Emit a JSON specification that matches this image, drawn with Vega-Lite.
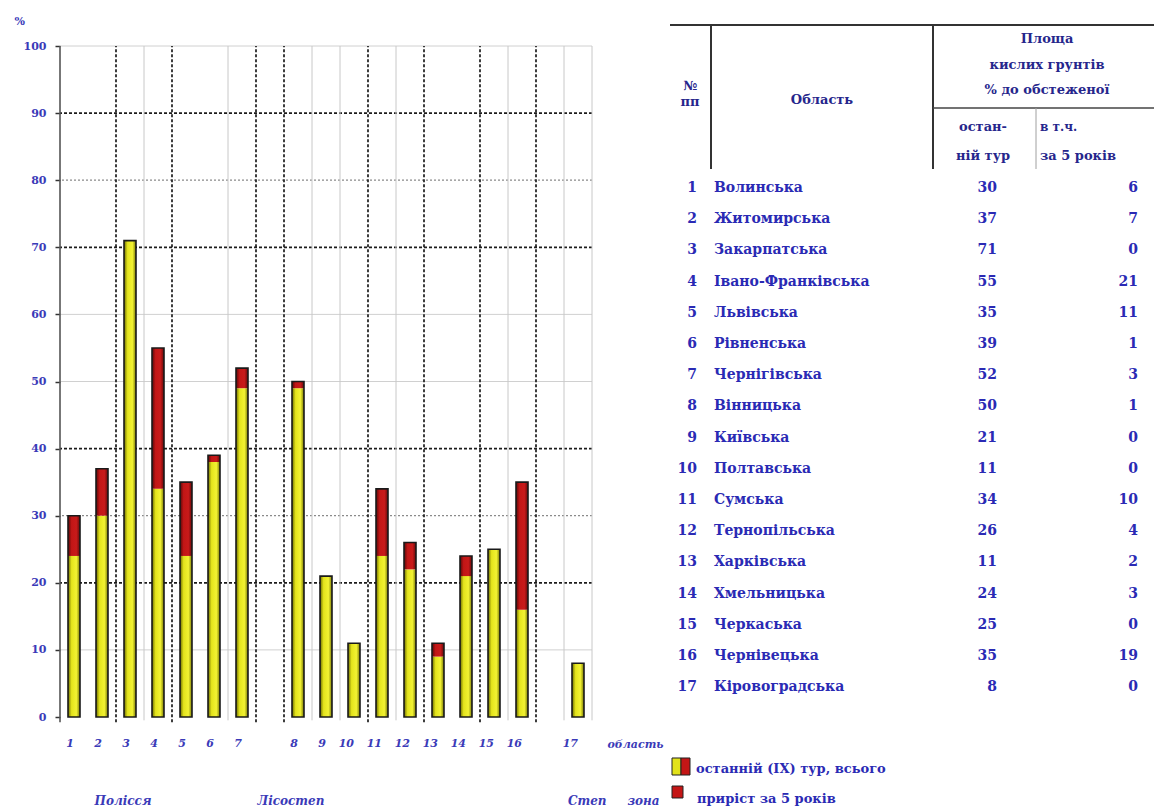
{
  "$schema": "https://vega.github.io/schema/vega-lite/v6.json",
  "background": "white",
  "autosize": {"type": "pad"},
  "padding": {"left": 14, "top": 15, "right": 0, "bottom": 0},
  "bounds": "flush",
  "spacing": 76,
  "config": {
    "view": {"stroke": null},
    "text": {"font": "DejaVu Serif"}
  },
  "datasets": {
    "regions": [
      {"id": "1", "no": 1, "name": "Волинська", "total": 30, "inc": 6, "base": 24},
      {"id": "2", "no": 2, "name": "Житомирська", "total": 37, "inc": 7, "base": 30},
      {"id": "3", "no": 3, "name": "Закарпатська", "total": 71, "inc": 0, "base": 71},
      {"id": "4", "no": 4, "name": "Івано-Франківська", "total": 55, "inc": 21, "base": 34},
      {"id": "5", "no": 5, "name": "Львівська", "total": 35, "inc": 11, "base": 24},
      {"id": "6", "no": 6, "name": "Рівненська", "total": 39, "inc": 1, "base": 38},
      {"id": "7", "no": 7, "name": "Чернігівська", "total": 52, "inc": 3, "base": 49},
      {"id": "8", "no": 8, "name": "Вінницька", "total": 50, "inc": 1, "base": 49},
      {"id": "9", "no": 9, "name": "Київська", "total": 21, "inc": 0, "base": 21},
      {"id": "10", "no": 10, "name": "Полтавська", "total": 11, "inc": 0, "base": 11},
      {"id": "11", "no": 11, "name": "Сумська", "total": 34, "inc": 10, "base": 24},
      {"id": "12", "no": 12, "name": "Тернопільська", "total": 26, "inc": 4, "base": 22},
      {"id": "13", "no": 13, "name": "Харківська", "total": 11, "inc": 2, "base": 9},
      {"id": "14", "no": 14, "name": "Хмельницька", "total": 24, "inc": 3, "base": 21},
      {"id": "15", "no": 15, "name": "Черкаська", "total": 25, "inc": 0, "base": 25},
      {"id": "16", "no": 16, "name": "Чернівецька", "total": 35, "inc": 19, "base": 16},
      {"id": "17", "no": 17, "name": "Кіровоградська", "total": 8, "inc": 0, "base": 8}
    ],
    "one": [{}],
    "gridDark": [{"v": 20}, {"v": 40}, {"v": 70}, {"v": 90}],
    "gridMid": [{"v": 30}, {"v": 80}],
    "gridLight": [{"v": 10}, {"v": 50}, {"v": 60}, {"v": 100}],
    "vDark": [{"id": "3"}, {"id": "5"}, {"id": "a"}, {"id": "8"}, {"id": "11"}, {"id": "13"}, {"id": "15"}, {"id": "b"}],
    "vLight": [{"id": "4"}, {"id": "7"}, {"id": "9"}, {"id": "10"}, {"id": "12"}, {"id": "16"}, {"id": "17"}],
    "vAxis": [{"id": "1"}],
    "vRight": [{"id": "17"}]
  },
  "hconcat": [
    {
      "width": 532,
      "height": 692,
      "layer": [
        {
          "data": {"name": "gridLight"},
          "mark": {"type": "rule", "color": "#d0d0d0", "strokeWidth": 1},
          "encoding": {
            "y": {"field": "v", "type": "quantitative", "scale": {"domain": [0, 103.13], "nice": false, "zero": true},
              "axis": {"values": [0, 10, 20, 30, 40, 50, 60, 70, 80, 90, 100], "domain": false, "grid": false, "ticks": true, "tickSize": 5, "tickColor": "#333333", "tickWidth": 1.5,
                "labelColor": "#3a3ab8", "labelFont": "DejaVu Serif", "labelFontWeight": "bold", "labelFontSize": 11, "labelPadding": 9,
                "title": "%", "titleAngle": 0, "titleX": -46, "titleY": -4, "titleAlign": "left", "titleBaseline": "middle", "titleColor": "#3a3ab8", "titleFont": "DejaVu Serif", "titleFontWeight": "bold", "titleFontSize": 11}}
          }
        },
        {
          "data": {"name": "gridMid"},
          "mark": {"type": "rule", "color": "#8a8a8a", "strokeWidth": 1.2, "strokeDash": [2, 2]},
          "encoding": {"y": {"field": "v", "type": "quantitative", "scale": {"domain": [0, 103.13], "nice": false, "zero": true}}}
        },
        {
          "data": {"name": "gridDark"},
          "mark": {"type": "rule", "color": "#1c1c1c", "strokeWidth": 1.7, "strokeDash": [3, 2]},
          "encoding": {"y": {"field": "v", "type": "quantitative", "scale": {"domain": [0, 103.13], "nice": false, "zero": true}}}
        },
        {
          "data": {"name": "vLight"},
          "mark": {"type": "rule", "color": "#c8c8c8", "strokeWidth": 1},
          "encoding": {
            "x": {"field": "id", "type": "nominal", "bandPosition": 0, "scale": {"domain": ["1","2","3","4","5","6","7","a","8","9","10","11","12","13","14","15","16","b","17"], "paddingInner": 0, "paddingOuter": 0}},
            "y": {"datum": -0.5, "type": "quantitative", "scale": {"domain": [0, 103.13], "nice": false, "zero": true}},
            "y2": {"datum": 100}
          }
        },
        {
          "data": {"name": "vRight"},
          "mark": {"type": "rule", "color": "#c8c8c8", "strokeWidth": 1},
          "encoding": {
            "x": {"field": "id", "type": "nominal", "bandPosition": 1, "scale": {"domain": ["1","2","3","4","5","6","7","a","8","9","10","11","12","13","14","15","16","b","17"], "paddingInner": 0, "paddingOuter": 0}},
            "y": {"datum": -0.5, "type": "quantitative", "scale": {"domain": [0, 103.13], "nice": false, "zero": true}},
            "y2": {"datum": 100}
          }
        },
        {
          "data": {"name": "vDark"},
          "mark": {"type": "rule", "color": "#1c1c1c", "strokeWidth": 1.7, "strokeDash": [3, 2]},
          "encoding": {
            "x": {"field": "id", "type": "nominal", "bandPosition": 0, "scale": {"domain": ["1","2","3","4","5","6","7","a","8","9","10","11","12","13","14","15","16","b","17"], "paddingInner": 0, "paddingOuter": 0}},
            "y": {"datum": -0.8, "type": "quantitative", "scale": {"domain": [0, 103.13], "nice": false, "zero": true}},
            "y2": {"datum": 100}
          }
        },
        {
          "data": {"name": "vAxis"},
          "mark": {"type": "rule", "color": "#555555", "strokeWidth": 1.6},
          "encoding": {
            "x": {"field": "id", "type": "nominal", "bandPosition": 0, "scale": {"domain": ["1","2","3","4","5","6","7","a","8","9","10","11","12","13","14","15","16","b","17"], "paddingInner": 0, "paddingOuter": 0}},
            "y": {"datum": -0.8, "type": "quantitative", "scale": {"domain": [0, 103.13], "nice": false, "zero": true}},
            "y2": {"datum": 100}
          }
        },
        {
          "data": {"name": "regions"},
          "mark": {"type": "bar", "width": 12, "color": {"gradient": "linear", "x1": 0, "y1": 0, "x2": 1, "y2": 0, "stops": [{"offset": 0, "color": "#6e6e00"}, {"offset": 0.3, "color": "#e4e41c"}, {"offset": 0.7, "color": "#f2f232"}, {"offset": 1, "color": "#7a7a06"}]}},
          "encoding": {
            "x": {"field": "id", "type": "nominal", "scale": {"domain": ["1","2","3","4","5","6","7","a","8","9","10","11","12","13","14","15","16","b","17"], "paddingInner": 0, "paddingOuter": 0},
              "axis": {"labelExpr": "datum.value == 'a' || datum.value == 'b' ? '' : datum.value", "domain": false, "ticks": false, "grid": false, "labelAngle": 0, "labelPadding": 26,
                "labelFont": "DejaVu Serif", "labelFontStyle": "italic", "labelFontWeight": "bold", "labelFontSize": 11, "labelColor": "#3a3ab8",
                "title": "область", "titleX": 547, "titleY": 27, "titleAlign": "left", "titleBaseline": "middle", "titleFont": "DejaVu Serif", "titleFontStyle": "italic", "titleFontWeight": "bold", "titleFontSize": 11, "titleColor": "#3a3ab8"}},
            "y": {"field": "base", "type": "quantitative", "scale": {"domain": [0, 103.13], "nice": false, "zero": true}}
          }
        },
        {
          "data": {"name": "regions"},
          "mark": {"type": "bar", "width": 12, "color": {"gradient": "linear", "x1": 0, "y1": 0, "x2": 1, "y2": 0, "stops": [{"offset": 0, "color": "#5a0808"}, {"offset": 0.3, "color": "#c21616"}, {"offset": 0.7, "color": "#c81a1a"}, {"offset": 1, "color": "#660a0a"}]}},
          "encoding": {
            "x": {"field": "id", "type": "nominal", "scale": {"domain": ["1","2","3","4","5","6","7","a","8","9","10","11","12","13","14","15","16","b","17"], "paddingInner": 0, "paddingOuter": 0}},
            "y": {"field": "base", "type": "quantitative", "scale": {"domain": [0, 103.13], "nice": false, "zero": true}},
            "y2": {"field": "total"}
          }
        },
        {
          "data": {"name": "regions"},
          "mark": {"type": "bar", "width": 12, "fill": "transparent", "stroke": "#1a1a1a", "strokeWidth": 1.6},
          "encoding": {
            "x": {"field": "id", "type": "nominal", "scale": {"domain": ["1","2","3","4","5","6","7","a","8","9","10","11","12","13","14","15","16","b","17"], "paddingInner": 0, "paddingOuter": 0}},
            "y": {"field": "total", "type": "quantitative", "scale": {"domain": [0, 103.13], "nice": false, "zero": true}}
          }
        },
        {
          "data": {"name": "one"},
          "mark": {"type": "text", "text": "Полісся", "font": "DejaVu Serif", "fontStyle": "italic", "fontWeight": "bold", "fontSize": 12, "color": "#3a3ab8", "align": "center", "baseline": "middle"},
          "encoding": {
            "x": {"datum": "3", "type": "nominal", "bandPosition": 0.25, "scale": {"domain": ["1","2","3","4","5","6","7","a","8","9","10","11","12","13","14","15","16","b","17"], "paddingInner": 0, "paddingOuter": 0}},
            "y": {"datum": -12.5, "type": "quantitative", "scale": {"domain": [0, 103.13], "nice": false, "zero": true}}
          }
        },
        {
          "data": {"name": "one"},
          "mark": {"type": "text", "text": "Лісостеп", "font": "DejaVu Serif", "fontStyle": "italic", "fontWeight": "bold", "fontSize": 12, "color": "#3a3ab8", "align": "center", "baseline": "middle"},
          "encoding": {
            "x": {"datum": "8", "type": "nominal", "bandPosition": 0.25, "scale": {"domain": ["1","2","3","4","5","6","7","a","8","9","10","11","12","13","14","15","16","b","17"], "paddingInner": 0, "paddingOuter": 0}},
            "y": {"datum": -12.5, "type": "quantitative", "scale": {"domain": [0, 103.13], "nice": false, "zero": true}}
          }
        },
        {
          "data": {"name": "one"},
          "mark": {"type": "text", "text": "Степ\u00a0\u00a0\u00a0\u00a0\u00a0зона", "font": "DejaVu Serif", "fontStyle": "italic", "fontWeight": "bold", "fontSize": 12, "color": "#3a3ab8", "align": "left", "baseline": "middle"},
          "encoding": {
            "x": {"datum": "17", "type": "nominal", "bandPosition": 0.14, "scale": {"domain": ["1","2","3","4","5","6","7","a","8","9","10","11","12","13","14","15","16","b","17"], "paddingInner": 0, "paddingOuter": 0}},
            "y": {"datum": -12.5, "type": "quantitative", "scale": {"domain": [0, 103.13], "nice": false, "zero": true}}
          }
        }
      ]
    },
    {
      "width": 486,
      "height": 692,
      "layer": [
        {
          "data": {"name": "one"},
          "mark": {"type": "rule", "color": "#333333", "strokeWidth": 2},
          "encoding": {
            "x": {"datum": 2, "type": "quantitative", "scale": {"domain": [0, 486], "nice": false, "zero": false}, "axis": null},
            "x2": {"datum": 486},
            "y": {"datum": -4.224, "type": "quantitative", "scale": {"domain": [-4.224, 17.955], "nice": false, "zero": false, "reverse": true}, "axis": null}
          }
        },
        {
          "data": {"name": "one"},
          "mark": {"type": "rule", "color": "#333333", "strokeWidth": 2},
          "encoding": {
            "x": {"datum": 43, "type": "quantitative", "scale": {"domain": [0, 486], "nice": false, "zero": false}},
            "y": {"datum": -4.224, "type": "quantitative", "scale": {"domain": [-4.224, 17.955], "nice": false, "zero": false, "reverse": true}},
            "y2": {"datum": 0.391}
          }
        },
        {
          "data": {"name": "one"},
          "mark": {"type": "rule", "color": "#333333", "strokeWidth": 2},
          "encoding": {
            "x": {"datum": 265, "type": "quantitative", "scale": {"domain": [0, 486], "nice": false, "zero": false}},
            "y": {"datum": -4.224, "type": "quantitative", "scale": {"domain": [-4.224, 17.955], "nice": false, "zero": false, "reverse": true}},
            "y2": {"datum": 0.391}
          }
        },
        {
          "data": {"name": "one"},
          "mark": {"type": "rule", "color": "#444444", "strokeWidth": 1.5},
          "encoding": {
            "x": {"datum": 265, "type": "quantitative", "scale": {"domain": [0, 486], "nice": false, "zero": false}},
            "x2": {"datum": 486},
            "y": {"datum": -1.564, "type": "quantitative", "scale": {"domain": [-4.224, 17.955], "nice": false, "zero": false, "reverse": true}}
          }
        },
        {
          "data": {"name": "one"},
          "mark": {"type": "rule", "color": "#a0a0a0", "strokeWidth": 1},
          "encoding": {
            "x": {"datum": 368, "type": "quantitative", "scale": {"domain": [0, 486], "nice": false, "zero": false}},
            "y": {"datum": -1.564, "type": "quantitative", "scale": {"domain": [-4.224, 17.955], "nice": false, "zero": false, "reverse": true}},
            "y2": {"datum": 0.391}
          }
        },
        {
          "data": {"name": "one"},
          "mark": {"type": "text", "text": "№", "fontWeight": "bold", "fontSize": 13, "color": "#26268c", "align": "center", "baseline": "middle"},
          "encoding": {
            "x": {"datum": 22, "type": "quantitative", "scale": {"domain": [0, 486], "nice": false, "zero": false}},
            "y": {"datum": -2.269, "type": "quantitative", "scale": {"domain": [-4.224, 17.955], "nice": false, "zero": false, "reverse": true}}
          }
        },
        {
          "data": {"name": "one"},
          "mark": {"type": "text", "text": "пп", "fontWeight": "bold", "fontSize": 13, "color": "#26268c", "align": "center", "baseline": "middle"},
          "encoding": {
            "x": {"datum": 22, "type": "quantitative", "scale": {"domain": [0, 486], "nice": false, "zero": false}},
            "y": {"datum": -1.756, "type": "quantitative", "scale": {"domain": [-4.224, 17.955], "nice": false, "zero": false, "reverse": true}}
          }
        },
        {
          "data": {"name": "one"},
          "mark": {"type": "text", "text": "Область", "fontWeight": "bold", "fontSize": 13, "color": "#26268c", "align": "center", "baseline": "middle"},
          "encoding": {
            "x": {"datum": 154, "type": "quantitative", "scale": {"domain": [0, 486], "nice": false, "zero": false}},
            "y": {"datum": -1.821, "type": "quantitative", "scale": {"domain": [-4.224, 17.955], "nice": false, "zero": false, "reverse": true}}
          }
        },
        {
          "data": {"name": "one"},
          "mark": {"type": "text", "text": "Площа", "fontWeight": "bold", "fontSize": 13, "color": "#26268c", "align": "center", "baseline": "middle"},
          "encoding": {
            "x": {"datum": 379, "type": "quantitative", "scale": {"domain": [0, 486], "nice": false, "zero": false}},
            "y": {"datum": -3.776, "type": "quantitative", "scale": {"domain": [-4.224, 17.955], "nice": false, "zero": false, "reverse": true}}
          }
        },
        {
          "data": {"name": "one"},
          "mark": {"type": "text", "text": "кислих грунтів", "fontWeight": "bold", "fontSize": 13, "color": "#26268c", "align": "center", "baseline": "middle"},
          "encoding": {
            "x": {"datum": 379, "type": "quantitative", "scale": {"domain": [0, 486], "nice": false, "zero": false}},
            "y": {"datum": -2.942, "type": "quantitative", "scale": {"domain": [-4.224, 17.955], "nice": false, "zero": false, "reverse": true}}
          }
        },
        {
          "data": {"name": "one"},
          "mark": {"type": "text", "text": "% до обстеженої", "fontWeight": "bold", "fontSize": 13, "color": "#26268c", "align": "center", "baseline": "middle"},
          "encoding": {
            "x": {"datum": 379, "type": "quantitative", "scale": {"domain": [0, 486], "nice": false, "zero": false}},
            "y": {"datum": -2.141, "type": "quantitative", "scale": {"domain": [-4.224, 17.955], "nice": false, "zero": false, "reverse": true}}
          }
        },
        {
          "data": {"name": "one"},
          "mark": {"type": "text", "text": "остан-", "fontWeight": "bold", "fontSize": 13, "color": "#26268c", "align": "center", "baseline": "middle"},
          "encoding": {
            "x": {"datum": 315, "type": "quantitative", "scale": {"domain": [0, 486], "nice": false, "zero": false}},
            "y": {"datum": -0.955, "type": "quantitative", "scale": {"domain": [-4.224, 17.955], "nice": false, "zero": false, "reverse": true}}
          }
        },
        {
          "data": {"name": "one"},
          "mark": {"type": "text", "text": "ній тур", "fontWeight": "bold", "fontSize": 13, "color": "#26268c", "align": "center", "baseline": "middle"},
          "encoding": {
            "x": {"datum": 315, "type": "quantitative", "scale": {"domain": [0, 486], "nice": false, "zero": false}},
            "y": {"datum": -0.026, "type": "quantitative", "scale": {"domain": [-4.224, 17.955], "nice": false, "zero": false, "reverse": true}}
          }
        },
        {
          "data": {"name": "one"},
          "mark": {"type": "text", "text": "в т.ч.", "fontWeight": "bold", "fontSize": 12, "color": "#26268c", "align": "left", "baseline": "middle"},
          "encoding": {
            "x": {"datum": 372, "type": "quantitative", "scale": {"domain": [0, 486], "nice": false, "zero": false}},
            "y": {"datum": -0.955, "type": "quantitative", "scale": {"domain": [-4.224, 17.955], "nice": false, "zero": false, "reverse": true}}
          }
        },
        {
          "data": {"name": "one"},
          "mark": {"type": "text", "text": "за 5 років", "fontWeight": "bold", "fontSize": 13, "color": "#26268c", "align": "left", "baseline": "middle"},
          "encoding": {
            "x": {"datum": 372, "type": "quantitative", "scale": {"domain": [0, 486], "nice": false, "zero": false}},
            "y": {"datum": -0.026, "type": "quantitative", "scale": {"domain": [-4.224, 17.955], "nice": false, "zero": false, "reverse": true}}
          }
        },
        {
          "data": {"name": "regions"},
          "mark": {"type": "text", "fontWeight": "bold", "fontSize": 14, "color": "#2a2ab4", "align": "right", "baseline": "middle"},
          "encoding": {
            "x": {"datum": 29, "type": "quantitative", "scale": {"domain": [0, 486], "nice": false, "zero": false}},
            "y": {"field": "no", "type": "quantitative", "scale": {"domain": [-4.224, 17.955], "nice": false, "zero": false, "reverse": true}},
            "text": {"field": "no", "type": "quantitative"}
          }
        },
        {
          "data": {"name": "regions"},
          "mark": {"type": "text", "fontWeight": "bold", "fontSize": 14, "color": "#2a2ab4", "align": "left", "baseline": "middle"},
          "encoding": {
            "x": {"datum": 46, "type": "quantitative", "scale": {"domain": [0, 486], "nice": false, "zero": false}},
            "y": {"field": "no", "type": "quantitative", "scale": {"domain": [-4.224, 17.955], "nice": false, "zero": false, "reverse": true}},
            "text": {"field": "name", "type": "nominal"}
          }
        },
        {
          "data": {"name": "regions"},
          "mark": {"type": "text", "fontWeight": "bold", "fontSize": 14, "color": "#2a2ab4", "align": "right", "baseline": "middle"},
          "encoding": {
            "x": {"datum": 329, "type": "quantitative", "scale": {"domain": [0, 486], "nice": false, "zero": false}},
            "y": {"field": "no", "type": "quantitative", "scale": {"domain": [-4.224, 17.955], "nice": false, "zero": false, "reverse": true}},
            "text": {"field": "total", "type": "quantitative"}
          }
        },
        {
          "data": {"name": "regions"},
          "mark": {"type": "text", "fontWeight": "bold", "fontSize": 14, "color": "#2a2ab4", "align": "right", "baseline": "middle"},
          "encoding": {
            "x": {"datum": 470, "type": "quantitative", "scale": {"domain": [0, 486], "nice": false, "zero": false}},
            "y": {"field": "no", "type": "quantitative", "scale": {"domain": [-4.224, 17.955], "nice": false, "zero": false, "reverse": true}},
            "text": {"field": "inc", "type": "quantitative"}
          }
        },
        {
          "data": {"name": "one"},
          "mark": {"type": "rect", "color": "#e2e21a", "stroke": "#222222", "strokeWidth": 1},
          "encoding": {
            "x": {"datum": 4, "type": "quantitative", "scale": {"domain": [0, 486], "nice": false, "zero": false}},
            "x2": {"datum": 13},
            "y": {"datum": 19.269, "type": "quantitative", "scale": {"domain": [-4.224, 17.955], "nice": false, "zero": false, "reverse": true}},
            "y2": {"datum": 19.814}
          }
        },
        {
          "data": {"name": "one"},
          "mark": {"type": "rect", "color": "#c41616", "stroke": "#222222", "strokeWidth": 1},
          "encoding": {
            "x": {"datum": 13, "type": "quantitative", "scale": {"domain": [0, 486], "nice": false, "zero": false}},
            "x2": {"datum": 22},
            "y": {"datum": 19.269, "type": "quantitative", "scale": {"domain": [-4.224, 17.955], "nice": false, "zero": false, "reverse": true}},
            "y2": {"datum": 19.814}
          }
        },
        {
          "data": {"name": "one"},
          "mark": {"type": "rect", "color": "#c41616", "stroke": "#222222", "strokeWidth": 1},
          "encoding": {
            "x": {"datum": 4, "type": "quantitative", "scale": {"domain": [0, 486], "nice": false, "zero": false}},
            "x2": {"datum": 15},
            "y": {"datum": 20.167, "type": "quantitative", "scale": {"domain": [-4.224, 17.955], "nice": false, "zero": false, "reverse": true}},
            "y2": {"datum": 20.551}
          }
        },
        {
          "data": {"name": "one"},
          "mark": {"type": "text", "text": "останній (ІХ) тур, всього", "fontWeight": "bold", "fontSize": 13, "color": "#2a2ab4", "align": "left", "baseline": "middle"},
          "encoding": {
            "x": {"datum": 28, "type": "quantitative", "scale": {"domain": [0, 486], "nice": false, "zero": false}},
            "y": {"datum": 19.622, "type": "quantitative", "scale": {"domain": [-4.224, 17.955], "nice": false, "zero": false, "reverse": true}}
          }
        },
        {
          "data": {"name": "one"},
          "mark": {"type": "text", "text": "приріст за 5 років", "fontWeight": "bold", "fontSize": 13, "color": "#2a2ab4", "align": "left", "baseline": "middle"},
          "encoding": {
            "x": {"datum": 29, "type": "quantitative", "scale": {"domain": [0, 486], "nice": false, "zero": false}},
            "y": {"datum": 20.583, "type": "quantitative", "scale": {"domain": [-4.224, 17.955], "nice": false, "zero": false, "reverse": true}}
          }
        }
      ]
    }
  ]
}
